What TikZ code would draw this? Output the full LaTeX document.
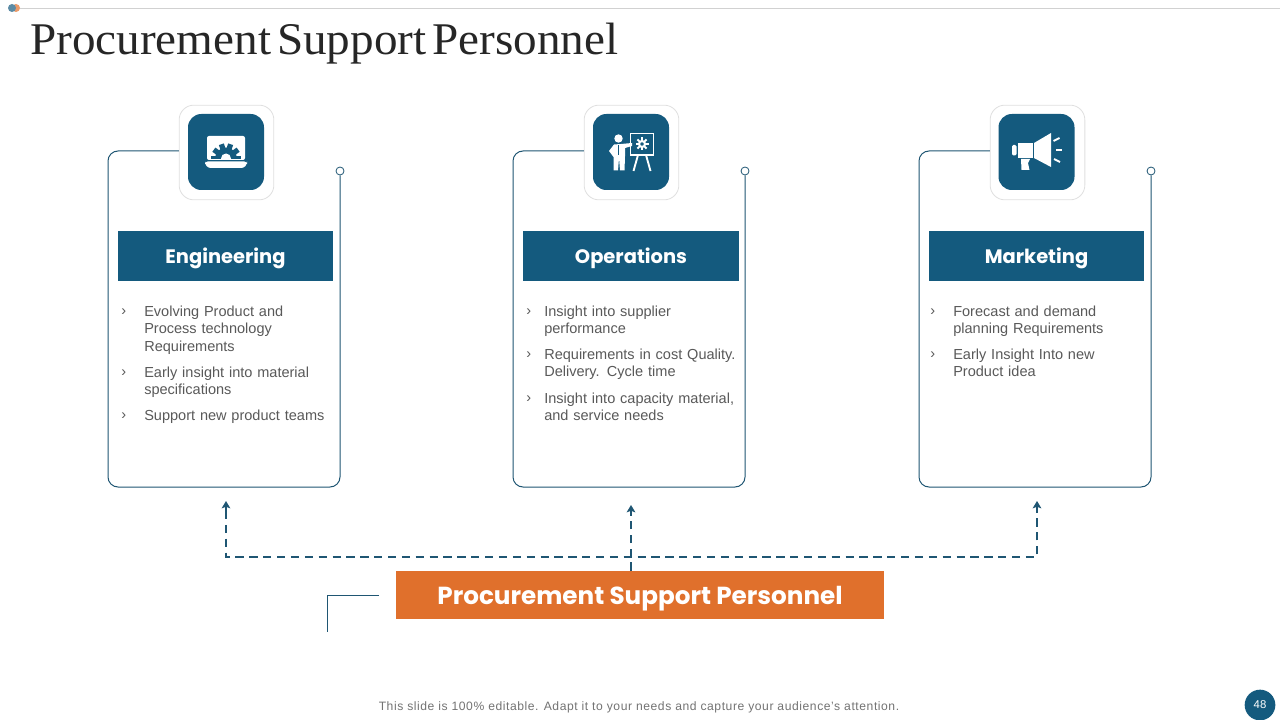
\documentclass[tikz,border=0pt]{standalone}
\usepackage{fontspec}
\setmainfont{Liberation Sans}
\newfontfamily\titlefont[FakeStretch=1.04,WordSpace=0.5]{Liberation Serif}
\newfontfamily\headfont{Poppins}
\usetikzlibrary{arrows.meta}
\definecolor{navy}{HTML}{145A7E}
\definecolor{lineblue}{HTML}{1F5673}
\definecolor{orangebox}{HTML}{E0702C}
\definecolor{bodygray}{HTML}{595959}
\tikzset{
  x=0.75pt,y=-0.75pt,
  cardline/.style={draw=lineblue,line width=0.75pt,rounded corners=7.5pt},
  headbox/.style={fill=navy,text=white,minimum width=161.5pt,minimum height=37.5pt,inner sep=0pt,text height=10.6pt,text depth=0pt,font=\headfont\bfseries\fontsize{14.6}{20}\selectfont},
  outerbox/.style={draw=black!12,fill=white,line width=0.6pt,minimum size=71pt,rounded corners=11pt,inner sep=0pt},
  innerbox/.style={fill=navy,minimum size=57pt,rounded corners=10pt,inner sep=0pt},
  bodytext/.style={anchor=north west,align=left,inner sep=0pt,text=bodygray,font=\fontsize{10.9}{13.1}\selectfont,text width=150pt},
  bullet/.style={anchor=north west,inner sep=0pt,text=bodygray,font=\fontsize{10.9}{13.1}\selectfont},
  dashline/.style={draw=lineblue,line width=1.2pt,dash pattern=on 6.2pt off 4.2pt},
  tip/.style={draw=lineblue,line width=1.2pt,-{Stealth[length=5.5pt,width=6.5pt,inset=1.2pt]}},
  dot/.style={circle,draw=lineblue,fill=white,line width=0.6pt,minimum size=6pt,inner sep=0pt}
}
\begin{document}
\begin{tikzpicture}
\useasboundingbox (0,0) rectangle (1280,720);
\fill[white] (0,0) rectangle (1280,720);
% header
\coordinate (ruleL) at (20,8.5);
\coordinate (ruleR) at (1280,8.5);
\draw[black!18,line width=0.7pt] (ruleL) -- (ruleR);
\fill[orangebox!70] (16,8) circle (4);
\fill[navy!70] (12,8) circle (4);
\node[anchor=base west,inner sep=0pt,text=black!85,font=\titlefont\fontsize{34}{38}\selectfont] (title) at (30,55) {Procurement Support Personnel};

% cards
\foreach \n/\ox/\ix/\cl/\cr in {a/226.5/226/108/340,b/631.5/631/513/745,c/1037.5/1036.5/919/1151}{
  \node[dot] (dot\n) at (\cr,171) {};
  \node[outerbox] (outer\n) at (\ox,152.5) {};
  \draw[cardline] (outer\n.west |- 0,151) -- (\cl,151) -- (\cl,487) -- (\cr,487) -- (dot\n.south);
  \node[innerbox] (inner\n) at (\ix,152) {};
}
\node[headbox] (heada) at (225.5,256) {Engineering};
\node[headbox] (headb) at (631,256) {Operations};
\node[headbox] (headc) at (1036.5,256) {Marketing};

% laptop icon
\fill[white,rounded corners=1.5pt] (207,136) rectangle (245,160);
\fill[white,rounded corners=2pt] (205,161.5) -- (247,161.5) -- (247,164) -- (244,168) -- (208,168) -- (205,164) -- cycle;
\begin{scope}
\clip (205,136) rectangle (247,158.5);
\fill[navy] (226,158.5) circle (11);
\foreach \a in {0,36,...,180}{
  \fill[navy,rotate around={\a:(226,158.5)}] (241,155.9) rectangle (231,161.1);
}
\fill[white] (226,158.5) circle (5);
\end{scope}

% presenter icon
\draw[white,line width=1.4pt] (630.5,133.5) rectangle (653.5,155);
\draw[white,line width=1.4pt] (638,155) -- (633.5,171);
\draw[white,line width=1.4pt] (646,155) -- (650.5,171);
\draw[white,line width=1.6pt] (642,144) circle (3);
\foreach \a in {0,45,...,315}{
  \fill[white,rotate around={\a:(642,144)}] (641,137.5) rectangle (643,140);
}
\fill[white] (618.5,138.5) circle (4.2);
\fill[white] (614,144.5) -- (621,144) -- (632,143) -- (632,146) -- (625,148) -- (625,156) -- (624.5,170.5) -- (620,170.5) -- (619,158) -- (618,170.5) -- (613.5,170.5) -- (613.5,157) -- (609,151) -- cycle;
\draw[navy,line width=0.9pt] (618.8,145) -- (618.8,155);

% megaphone icon
\fill[white] (1034,143) -- (1051,133) -- (1051,167) -- (1034,158) -- cycle;
\fill[white] (1018,143) rectangle (1032.5,158);
\fill[white,rounded corners=1pt] (1012,145) rectangle (1016.5,155.5);
\fill[white] (1021,159) -- (1030,159) -- (1028,163) -- (1029.5,170) -- (1021.5,170) -- cycle;
\draw[white,line width=1.4pt] (1053.5,141) -- (1059.5,138);
\draw[white,line width=1.4pt] (1056,150) -- (1062,150);
\draw[white,line width=1.4pt] (1054,159) -- (1060,162);

% text: engineering
\node[bullet] (ba1) at (121,308.5) {›};
\node[bodytext] (ta1) at (144,305.5) {Evolving Product and\\Process technology\\Requirements};
\node[bullet] (ba2) at (121,369.5) {›};
\node[bodytext] (ta2) at (144,366.5) {Early insight into material\\specifications};
\node[bullet] (ba3) at (121,412.5) {›};
\node[bodytext] (ta3) at (144,409.5) {Support new product teams};
% text: operations
\node[bullet] (bb1) at (526,308.5) {›};
\node[bodytext] (tb1) at (544,305.5) {Insight into supplier\\performance};
\node[bullet] (bb2) at (526,351.5) {›};
\node[bodytext] (tb2) at (544,348.5) {Requirements in cost Quality.\\Delivery. Cycle time};
\node[bullet] (bb3) at (526,395.5) {›};
\node[bodytext] (tb3) at (544,392.5) {Insight into capacity material,\\and service needs};
% text: marketing
\node[bullet] (bc1) at (930,308.5) {›};
\node[bodytext] (tc1) at (953,305.5) {Forecast and demand\\planning Requirements};
\node[bullet] (bc2) at (930,351.5) {›};
\node[bodytext] (tc2) at (953,348.5) {Early Insight Into new\\Product idea};

% bottom
\node[fill=orangebox,text=white,minimum width=366pt,minimum height=36pt,inner sep=0pt,text height=13.6pt,text depth=0pt,font=\headfont\bfseries\fontsize{18.5}{24}\selectfont] (proc) at (640,595) {Procurement Support Personnel};
\coordinate (tipa) at (226,501);
\coordinate (tipb) at (631,505);
\coordinate (tipc) at (1037,501);
\coordinate (elbowa) at (226,557);
\coordinate (elbowc) at (1037,557);
\draw[dashline] (tipa |- 0,511) -- (elbowa) -- (elbowc) -- (tipc |- 0,511);
\draw[dashline] (proc.north -| tipb) -- (tipb |- 0,515);
\draw[tip] (tipa |- 0,511) -- (tipa);
\draw[tip] (tipb |- 0,515) -- (tipb);
\draw[tip] (tipc |- 0,511) -- (tipc);
\coordinate (brA) at (379,595.5);
\coordinate (brB) at (327.5,595.5);
\coordinate (brC) at (327.5,632);
\draw[lineblue,line width=0.75pt] (brA) -- (brB) -- (brC);

% footer
\node[inner sep=0pt,text=black!55,font=\fontsize{9.1}{11}\selectfont] (foot) at (639,707) {\addfontfeature{LetterSpace=4.6}This slide is 100\% editable. Adapt it to your needs and capture your audience's attention.};
\node[circle,fill=navy,text=white,minimum size=23pt,inner sep=0pt,font=\fontsize{8.5}{10}\selectfont] (page) at (1260,705) {48};
\end{tikzpicture}
\end{document}
